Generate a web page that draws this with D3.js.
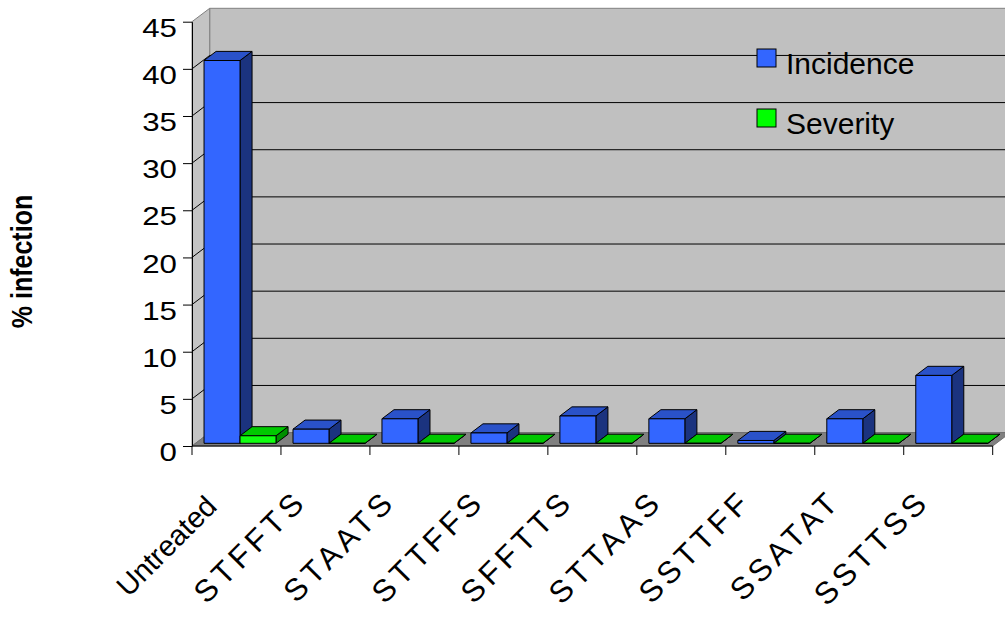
<!DOCTYPE html>
<html>
<head>
<meta charset="utf-8">
<script src="https://cdn.jsdelivr.net/npm/d3@7"></script>
<style>
  html, body { margin: 0; padding: 0; background: #ffffff; }
  svg { display: block; }
  text { font-family: "Liberation Sans", Arial, sans-serif; fill: #000; }
</style>
</head>
<body>
<svg id="chart" width="1005" height="617"></svg>
<script>
// Treatments along the category axis
const categories = ["Untreated", "STFFTS", "STAATS", "STTFFS", "SFFTTS", "STTAAS", "SSTTFF", "SSATAT", "SSTTSS"];
// % infection per treatment
const incidence = [40.6, 1.5, 2.6, 1.1, 2.9, 2.6, 0.3, 2.6, 7.2];
const severity  = [0.8, 0, 0, 0, 0, 0, 0, 0, 0];
const seriesNames = ["Incidence", "Severity"];
const yTicks = [0, 5, 10, 15, 20, 25, 30, 35, 40, 45];

const seriesValues = { Incidence: incidence, Severity: severity };
const colors = {
  Incidence: { front: "#3366ff", top: "#2a52c9", side: "#1b337f", key: "#3366ff" },
  Severity:  { front: "#11ff11", top: "#00c800", side: "#008f00", key: "#00ff00" }
};

const svg = d3.select("#chart");

// Front plane of the plot box
const x = d3.scaleBand().domain(categories).range([192, 992.7]);
const y = d3.scaleLinear().domain([0, 45]).range([446, 21.7]);
const inner = d3.scaleBand().domain(seriesNames).range([0, x.bandwidth()]).paddingOuter(0.236);

// Oblique depth of the box
const DX = 17.7, DY = -13.4;
const proj = (px, py, f) => [px + f * DX, py + f * DY];
const poly = pts => "M" + pts.map(p => p.join(",")).join("L") + "Z";

const x0 = x.range()[0], x1 = x.range()[1];
const yTop = y(45), yBot = y(0);

// Walls and floor
const g = svg.append("g");
g.append("path")
  .attr("d", poly([proj(x0, yTop, 1), [1010, yTop + DY], [1010, yBot + DY], proj(x0, yBot, 1)]))
  .attr("fill", "#c0c0c0").attr("stroke", "#808080").attr("stroke-width", 1);
g.append("path")
  .attr("d", poly([[x0, yTop], proj(x0, yTop, 1), proj(x0, yBot, 1), [x0, yBot]]))
  .attr("fill", "#c4c4c4").attr("stroke", "#808080").attr("stroke-width", 1);
g.append("path")
  .attr("d", poly([[x0, yBot], [x1, yBot], proj(x1, yBot, 1), proj(x0, yBot, 1)]))
  .attr("fill", "#808080").attr("stroke", "#707070").attr("stroke-width", 1);

// Gridlines on the back wall and side wall
const grid = yTicks.filter(t => t > 0 && t < 45);
g.selectAll("line.grid").data(grid).join("line")
  .attr("class", "grid")
  .attr("x1", x0 + DX).attr("x2", 1010)
  .attr("y1", d => y(d) + DY).attr("y2", d => y(d) + DY)
  .attr("stroke", "#000").attr("stroke-width", 1);
g.selectAll("line.sgrid").data(grid).join("line")
  .attr("class", "sgrid")
  .attr("x1", x0).attr("y1", d => y(d))
  .attr("x2", x0 + DX).attr("y2", d => y(d) + DY)
  .attr("stroke", "#000").attr("stroke-width", 1);

// 3D bars
const F0 = 0.2, F1 = 0.88;
const bars = svg.append("g");
categories.forEach((cat, i) => {
  seriesNames.forEach(s => {
    const v = seriesValues[s][i];
    const bx0 = x(cat) + inner(s), bx1 = bx0 + inner.bandwidth();
    const yv = y(v), y0 = y(0);
    const c = colors[s];
    const fbl = proj(bx0, y0, F0), fbr = proj(bx1, y0, F0);
    const ftl = proj(bx0, yv, F0), ftr = proj(bx1, yv, F0);
    const btl = proj(bx0, yv, F1), btr = proj(bx1, yv, F1), bbr = proj(bx1, y0, F1);
    const bg = bars.append("g").attr("stroke", "#000").attr("stroke-width", 1).attr("stroke-linejoin", "round");
    bg.append("path").attr("d", poly([ftr, btr, bbr, fbr])).attr("fill", c.side);
    bg.append("path").attr("d", poly([ftl, btl, btr, ftr])).attr("fill", c.top);
    bg.append("path").attr("d", poly([fbl, ftl, ftr, fbr])).attr("fill", c.front);
  });
});

// Value axis on the front edge
const yAxis = svg.append("g")
  .attr("transform", `translate(${x0},0)`)
  .call(d3.axisLeft(y).tickValues(yTicks).tickSize(9).tickSizeOuter(0));
yAxis.select(".domain").attr("stroke", "#000");
yAxis.selectAll(".tick line").attr("stroke", "#000");
yAxis.selectAll(".tick text")
  .attr("x", null).attr("dy", null)
  .attr("font-size", 25)
  .attr("font-family", "Liberation Sans, Arial, sans-serif")
  .attr("text-anchor", "end")
  .attr("transform", "translate(-15,14.6) scale(1.25,1)");

// Category axis
const xa = svg.append("g");
xa.append("line").attr("x1", x0).attr("x2", x1).attr("y1", yBot).attr("y2", yBot)
  .attr("stroke", "#000");
const bounds = categories.map(c => x(c)).concat([x1]);
xa.selectAll("line.tk").data(bounds).join("line")
  .attr("class", "tk")
  .attr("x1", d => d).attr("x2", d => d)
  .attr("y1", yBot).attr("y2", yBot + 9)
  .attr("stroke", "#000");
xa.selectAll("text").data(categories).join("text")
  .attr("transform", (d, i) => i === 0
    ? `translate(${x(d) + x.bandwidth() / 2 - 18},508) rotate(-45)`
    : `translate(${x(d) + x.bandwidth() / 2 - 17},503) rotate(-45)`)
  .attr("text-anchor", "end")
  .attr("font-size", (d, i) => i === 0 ? 29 : 31)
  .attr("letter-spacing", (d, i) => i === 0 ? 0 : 4.5)
  .text(d => d);

// Axis title
svg.append("text")
  .attr("transform", "translate(32,261.5) scale(1.15,1) rotate(-90)")
  .attr("text-anchor", "middle")
  .attr("font-size", 25)
  .attr("font-weight", "bold")
  .text("% infection");

// Legend
const legend = svg.append("g");
seriesNames.forEach((s, i) => {
  const ly = 49 + i * 60;
  legend.append("rect").attr("x", 757).attr("y", ly).attr("width", 19).attr("height", 18)
    .attr("fill", colors[s].key)
    .attr("stroke", "#000").attr("stroke-width", 1);
  legend.append("text").attr("x", 786).attr("y", ly + 25)
    .attr("font-size", 30).text(s);
});
</script>
</body>
</html>
